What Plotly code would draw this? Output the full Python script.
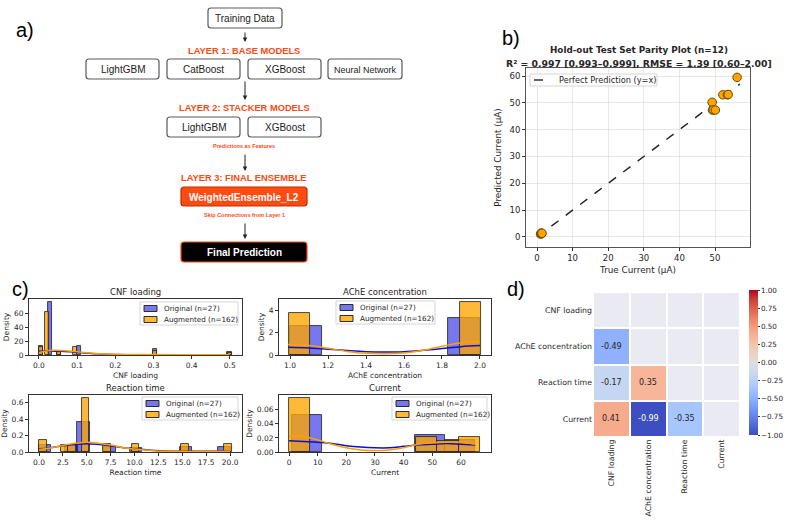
import plotly.graph_objects as go

W, H = 792, 525
MPL = "DejaVu Sans"
ARIAL = "Liberation Sans, Arial, sans-serif"
INK = "#262626"
RED = "#ff4a12"

# ── (a) stacking diagram ─────────────────────────────────────────
training_label = "Training Data"
layer_titles = ["LAYER 1: BASE MODELS", "LAYER 2: STACKER MODELS", "LAYER 3: FINAL ENSEMBLE"]
base_models = ["LightGBM", "CatBoost", "XGBoost", "Neural Network"]
stacker_models = ["LightGBM", "XGBoost"]
ensemble_label = "WeightedEnsemble_L2"
final_label = "Final Prediction"
flow_notes = ["Predictions as Features", "Skip Connections from Layer 1"]

# ── (b) parity plot ──────────────────────────────────────────────
true_current = [1.0, 1.2, 1.3, 1.4, 49.2, 49.3, 49.5, 50.1, 52.2, 53.5, 53.7, 56.2]
pred_current = [1.1, 1.5, 1.2, 1.4, 50.2, 47.3, 47.4, 47.3, 53.0, 53.0, 53.1, 59.5]
ideal_span = [0.0, 57.0]
parity_title = "Hold-out Test Set Parity Plot (n=12)"
parity_stats = "R² = 0.997 [0.993–0.999], RMSE = 1.39 [0.60–2.00]"
parity_legend = "Perfect Prediction (y=x)"

# ── (c) original vs augmented distributions ──────────────────────
dist_labels = ["Original (n=27)", "Augmented (n=162)"]

cnf_orig_left = [0.000, 0.024, 0.048, 0.100, 0.298, 0.494]
cnf_orig_h = [12.5, 76.0, 5.0, 13.0, 9.0, 4.5]
cnf_aug_left = [0.000, 0.017, 0.048, 0.090, 0.298, 0.496]
cnf_aug_h = [11.0, 61.0, 4.0, 11.0, 5.5, 3.5]
cnf_bin_w = [0.0105, 0.0105]
cnf_kde_x = [0.0, 0.03, 0.06, 0.1, 0.15, 0.2, 0.25, 0.3, 0.4, 0.5]
cnf_kde_orig = [5.5, 5.8, 5.2, 3.8, 1.8, 0.8, 0.5, 0.5, 0.3, 0.3]
cnf_kde_aug = [3.5, 6.5, 6.5, 4.5, 2.2, 1.0, 0.6, 0.6, 0.4, 0.4]

ache_orig_left = [1.0, 1.833]
ache_orig_h = [2.65, 3.3]
ache_aug_left = [0.995, 1.895]
ache_aug_h = [3.8, 4.75]
ache_bin_w = [0.1667, 0.11]
ache_kde_x = [0.99, 1.1, 1.2, 1.3, 1.4, 1.5, 1.6, 1.7, 1.8, 1.9, 2.0]
ache_kde_orig = [0.7, 0.64, 0.52, 0.4, 0.3, 0.27, 0.3, 0.42, 0.58, 0.75, 0.85]
ache_kde_aug = [0.95, 0.85, 0.6, 0.32, 0.15, 0.12, 0.18, 0.42, 0.78, 1.1, 1.22]

rt_orig_left = [0.0, 2.75, 4.0, 6.75, 9.5, 14.75, 18.75]
rt_orig_h = [0.09, 0.075, 0.37, 0.055, 0.05, 0.06, 0.06]
rt_aug_left = [0.0, 2.27, 3.07, 4.47, 6.73, 9.7, 14.9, 19.4]
rt_aug_h = [0.15, 0.08, 0.08, 0.66, 0.1, 0.1, 0.1, 0.1]
rt_bin_w = [1.3, 0.8]
rt_kde_x = [0, 1, 2.5, 4, 5, 6, 7.5, 9, 10, 12.5, 15, 17.5, 20]
rt_kde_orig = [0.04, 0.05, 0.075, 0.095, 0.1, 0.095, 0.075, 0.05, 0.04, 0.015, 0.01, 0.008, 0.01]
rt_kde_aug = [0.03, 0.045, 0.08, 0.11, 0.12, 0.11, 0.085, 0.05, 0.035, 0.01, 0.008, 0.005, 0.008]

cur_orig_left = [1.0, 44.0, 54.4]
cur_orig_h = [0.052, 0.024, 0.017]
cur_aug_left = [0.0, 44.4, 51.8, 59.2]
cur_aug_h = [0.077, 0.021, 0.016, 0.021]
cur_bin_w = [10.4, 7.4]
cur_kde_x = [0, 5, 10, 15, 20, 25, 30, 35, 40, 45, 50, 55, 60, 65]
cur_kde_orig = [0.016, 0.015, 0.014, 0.012, 0.009, 0.007, 0.006, 0.006, 0.008, 0.01, 0.011, 0.012, 0.011, 0.01]
cur_kde_aug = [0.022, 0.022, 0.017, 0.011, 0.006, 0.003, 0.002, 0.003, 0.006, 0.011, 0.013, 0.014, 0.014, 0.011]

# ── (d) correlation matrix (lower triangle) ──────────────────────
features = ["CNF loading", "AChE concentration", "Reaction time", "Current"]
corr_lower = [[], [-0.49], [-0.17, 0.35], [0.41, -0.99, -0.35]]

COOLWARM = [
    [0.0, "rgb(59,76,192)"], [0.0625, "rgb(77,104,215)"], [0.125, "rgb(98,130,234)"],
    [0.1875, "rgb(119,154,247)"], [0.25, "rgb(141,176,254)"], [0.3125, "rgb(163,194,255)"],
    [0.375, "rgb(184,208,249)"], [0.4375, "rgb(204,217,238)"], [0.5, "rgb(221,221,221)"],
    [0.5625, "rgb(236,211,197)"], [0.625, "rgb(245,196,173)"], [0.6875, "rgb(247,177,148)"],
    [0.75, "rgb(244,154,123)"], [0.8125, "rgb(236,127,99)"], [0.875, "rgb(222,96,77)"],
    [0.9375, "rgb(203,62,56)"], [1.0, "rgb(180,4,38)"],
]

BLUE_FILL = "rgba(20,20,225,0.58)"
ORANGE_FILL = "rgba(255,165,0,0.78)"
EDGE = "rgba(25,25,25,0.85)"


def xd(a, b):
    return [a / W, b / W]


def yd(top, bottom):
    return [1 - bottom / H, 1 - top / H]


def note(text, x, y, size, color=INK, family=MPL, angle=0, xanchor="center"):
    fig.add_annotation(
        x=x / W, y=1 - y / H, xref="paper", yref="paper", text=text, showarrow=False,
        font=dict(family=family, size=size, color=color), textangle=angle,
        xanchor=xanchor, yanchor="middle",
    )


def paper_rect(x0, y0, x1, y1, fill, line, width=1):
    fig.add_shape(type="rect", xref="paper", yref="paper",
                  x0=x0 / W, x1=x1 / W, y0=1 - y1 / H, y1=1 - y0 / H,
                  fillcolor=fill, line=dict(color=line, width=width), layer="above")


def hist_legend(x0, y0, x1, y1):
    paper_rect(x0, y0, x1, y1, "rgba(255,255,255,0.85)", "#d5d5d5")
    for k, (label, fill) in enumerate(zip(dist_labels, [BLUE_FILL, ORANGE_FILL])):
        yc = y0 + 6.5 + k * 11
        paper_rect(x0 + 4, yc - 3, x0 + 17, yc + 3, fill, "#1a1a1a", 0.9)
        note(label, x0 + 22, yc, 7.2, xanchor="left")


def mpl_axis(**kw):
    base = dict(
        showgrid=False, zeroline=False, showline=True, mirror=True, automargin=False,
        linecolor="#333", linewidth=0.9, ticks="outside", ticklen=3,
        tickwidth=0.8, tickcolor="#333", fixedrange=True,
        tickfont=dict(family=MPL, size=7.5, color=INK),
    )
    base.update(kw)
    return base


def axis_title(text, standoff=3, size=7.5):
    return dict(text=text, standoff=standoff, font=dict(family=MPL, size=size, color=INK))


def rrect(x0, y0, x1, y1, r=3):
    return (f"M{x0 + r},{y0} L{x1 - r},{y0} Q{x1},{y0} {x1},{y0 + r} "
            f"L{x1},{y1 - r} Q{x1},{y1} {x1 - r},{y1} L{x0 + r},{y1} "
            f"Q{x0},{y1} {x0},{y1 - r} L{x0},{y0 + r} Q{x0},{y0} {x0 + r},{y0} Z")


fig = go.Figure()

# ── (a) diagram, drawn on a pixel-scaled helper axis ─────────────
fig.add_trace(go.Scatter(x=[0], y=[0], xaxis="x7", yaxis="y7", mode="markers",
                         marker=dict(opacity=0), hoverinfo="skip", showlegend=False))


def box(x0, x1, y0, y1, text, fill="white", line="#5a5a5a", tcolor="#222", size=10, bold=False):
    fig.add_shape(type="path", path=rrect(x0, y0, x1, y1), xref="x7", yref="y7",
                  fillcolor=fill, line=dict(color=line, width=1.2), layer="above")
    fig.add_annotation(x=(x0 + x1) / 2, y=(y0 + y1) / 2 + 0.5, xref="x7", yref="y7",
                       text=f"<b>{text}</b>" if bold else text, showarrow=False,
                       font=dict(family=ARIAL, size=size, color=tcolor))


def arrow(y0, y1, cx=245):
    fig.add_annotation(x=cx, y=y1, ax=cx, ay=y0, xref="x7", yref="y7", axref="x7", ayref="y7",
                       text="", showarrow=True, arrowhead=2, arrowsize=0.9,
                       arrowwidth=1, arrowcolor="#222")


def red_label(text, y, size):
    fig.add_annotation(x=244, y=y, xref="x7", yref="y7", text=f"<b>{text}</b>", showarrow=False,
                       font=dict(family=ARIAL, size=size, color=RED))


box(208, 282, 8, 28, training_label, size=10)
arrow(31, 42)
red_label(layer_titles[0], 51, 9.3)
for name, (a, b) in zip(base_models, [(86, 159), (167, 240), (248, 321), (328, 402)]):
    box(a, b, 59, 79, name, size=10 if name != "Neural Network" else 9)
arrow(80, 100)
red_label(layer_titles[1], 108, 9.3)
for name, (a, b) in zip(stacker_models, [(167, 240), (248, 321)]):
    box(a, b, 117, 137, name, size=10)
red_label(flow_notes[0], 146, 5.5)
arrow(153, 171)
red_label(layer_titles[2], 178, 9.3)
box(181, 307, 187, 206, ensemble_label, fill=RED, line="#b83000", tcolor="white", size=10, bold=True)
red_label(flow_notes[1], 215, 5.5)
arrow(222, 239)
box(181, 307, 242, 262, final_label, fill="black", line=RED, tcolor="white", size=10, bold=True)

# ── (b) parity plot ──────────────────────────────────────────────
fig.add_trace(go.Scatter(
    x=ideal_span, y=ideal_span, mode="lines", showlegend=False,
    line=dict(color="#222", width=1.4, dash="dash"),
))
fig.add_trace(go.Scatter(
    x=true_current, y=pred_current, mode="markers", showlegend=False,
    marker=dict(size=8.5, color="#ffa500", line=dict(color="#6b4a00", width=1)),
))

# ── (c) histograms with kde ──────────────────────────────────────
hist_specs = [
    ("x2", "y2", cnf_orig_left, cnf_orig_h, cnf_aug_left, cnf_aug_h, cnf_bin_w,
     cnf_kde_x, cnf_kde_orig, cnf_kde_aug),
    ("x3", "y3", ache_orig_left, ache_orig_h, ache_aug_left, ache_aug_h, ache_bin_w,
     ache_kde_x, ache_kde_orig, ache_kde_aug),
    ("x4", "y4", rt_orig_left, rt_orig_h, rt_aug_left, rt_aug_h, rt_bin_w,
     rt_kde_x, rt_kde_orig, rt_kde_aug),
    ("x5", "y5", cur_orig_left, cur_orig_h, cur_aug_left, cur_aug_h, cur_bin_w,
     cur_kde_x, cur_kde_orig, cur_kde_aug),
]
for xa, ya, o_left, o_h, a_left, a_h, bw, kx, ko, ka in hist_specs:
    fig.add_trace(go.Bar(
        x=[l + bw[0] / 2 for l in o_left], y=o_h, width=bw[0], xaxis=xa, yaxis=ya,
        showlegend=False, marker=dict(color=BLUE_FILL, line=dict(color=EDGE, width=0.9)),
    ))
    fig.add_trace(go.Scatter(
        x=kx, y=ko, mode="lines", line=dict(color="#1010c8", width=1.5, shape="spline"),
        xaxis=xa, yaxis=ya, showlegend=False,
    ))
    fig.add_trace(go.Bar(
        x=[l + bw[1] / 2 for l in a_left], y=a_h, width=bw[1], xaxis=xa, yaxis=ya,
        showlegend=False, marker=dict(color=ORANGE_FILL, line=dict(color=EDGE, width=0.9)),
    ))
    fig.add_trace(go.Scatter(
        x=kx, y=ka, mode="lines", line=dict(color="#ffa000", width=1.5, shape="spline"),
        xaxis=xa, yaxis=ya, showlegend=False,
    ))

# ── (d) correlation heatmap ──────────────────────────────────────
z = [[None] * len(features) for _ in features]
mask = [[1] * len(features) for _ in features]
for i, row in enumerate(corr_lower):
    for j, v in enumerate(row):
        z[i][j] = v
        mask[i][j] = None
fig.add_trace(go.Heatmap(
    z=mask, x=features, y=features, xaxis="x6", yaxis="y6", xgap=2, ygap=2,
    colorscale=[[0, "#eaeaf2"], [1, "#eaeaf2"]], showscale=False, hoverinfo="skip",
))
fig.add_trace(go.Heatmap(
    z=z, x=features, y=features, xaxis="x6", yaxis="y6", xgap=2, ygap=2,
    colorscale=COOLWARM, zmin=-1, zmax=1,
    colorbar=dict(
        x=749 / W, xanchor="left", y=1 - 362.5 / H, yanchor="middle",
        len=145 / H, thickness=9, outlinewidth=0, xpad=0, ypad=0,
        tickvals=[-1, -0.75, -0.5, -0.25, 0, 0.25, 0.5, 0.75, 1], tickformat=".2f",
        ticks="outside", ticklen=2, tickcolor="#333",
        tickfont=dict(family=MPL, size=7.2, color=INK),
    ),
))
for i, row in enumerate(corr_lower):
    for j, v in enumerate(row):
        fig.add_annotation(
            x=features[j], y=features[i], xref="x6", yref="y6", text=f"{v:.2f}",
            showarrow=False, font=dict(family=MPL, size=8, color="white" if abs(v) > 0.8 else INK),
        )

# ── layout ───────────────────────────────────────────────────────
fig.update_layout(
    width=W, height=H, margin=dict(l=0, r=0, t=0, b=0),
    paper_bgcolor="white", plot_bgcolor="white", barmode="overlay", bargap=0,
    template="none", showlegend=False,
    xaxis=mpl_axis(domain=xd(526, 750), range=[-3.09, 59.83], dtick=10, anchor="y",
                   showgrid=True, gridcolor="rgba(0,0,0,0.09)", gridwidth=1, linecolor="#555",
                   tickfont=dict(family=MPL, size=8.5, color=INK),
                   title=axis_title("True Current (μA)", 4, 8.8)),
    yaxis=mpl_axis(domain=yd(68, 247), range=[-3.73, 62.99], dtick=10, anchor="x",
                   showgrid=True, gridcolor="rgba(0,0,0,0.09)", gridwidth=1, linecolor="#555",
                   tickfont=dict(family=MPL, size=8.5, color=INK),
                   title=axis_title("Predicted Current (μA)", 6, 8.8)),
    xaxis2=mpl_axis(domain=xd(29, 242), range=[-0.026, 0.532], tickvals=[0, 0.1, 0.2, 0.3, 0.4, 0.5],
                    tickformat=".1f", anchor="y2", title=axis_title(features[0])),
    yaxis2=mpl_axis(domain=yd(299, 355), range=[0, 80], tickvals=[0, 20, 40, 60], anchor="x2",
                    title=axis_title("Density")),
    xaxis3=mpl_axis(domain=xd(279, 491), range=[0.942, 2.058], tickvals=[1.0, 1.2, 1.4, 1.6, 1.8, 2.0],
                    tickformat=".1f", anchor="y3", title=axis_title(features[1])),
    yaxis3=mpl_axis(domain=yd(299, 355), range=[0, 5.04], tickvals=[0, 2, 4], anchor="x3",
                    title=axis_title("Density")),
    xaxis4=mpl_axis(domain=xd(29, 242), range=[-1.05, 21.25], tickvals=[0, 2.5, 5, 7.5, 10, 12.5, 15, 17.5, 20],
                    tickformat=".1f", anchor="y4", title=axis_title(features[2])),
    yaxis4=mpl_axis(domain=yd(395, 452), range=[0, 0.693], tickvals=[0, 0.2, 0.4, 0.6], tickformat=".1f",
                    anchor="x4", title=axis_title("Density")),
    xaxis5=mpl_axis(domain=xd(279, 491), range=[-3.5, 70.5], tickvals=[0, 10, 20, 30, 40, 50, 60],
                    anchor="y5", title=axis_title(features[3])),
    yaxis5=mpl_axis(domain=yd(395, 452), range=[0, 0.081], tickvals=[0, 0.02, 0.04, 0.06], tickformat=".2f",
                    anchor="x5", title=axis_title("Density")),
    xaxis6=dict(domain=xd(593, 740), anchor="y6", showgrid=False, zeroline=False, showline=False,
                automargin=False, ticks="", tickangle=-90,
                tickfont=dict(family=MPL, size=7.8, color=INK), fixedrange=True),
    yaxis6=dict(domain=yd(292, 437), anchor="x6", showgrid=False, zeroline=False, showline=False,
                automargin=False, ticks="", autorange="reversed",
                tickfont=dict(family=MPL, size=7.8, color=INK), fixedrange=True),
    xaxis7=dict(domain=xd(0, 420), range=[0, 420], anchor="y7", visible=False, fixedrange=True),
    yaxis7=dict(domain=yd(0, 270), range=[270, 0], anchor="x7", visible=False, fixedrange=True),
)

# (b) legend, drawn by hand to keep matplotlib's compact box
paper_rect(530, 74, 657, 86, "rgba(255,255,255,0.85)", "#d5d5d5")
fig.add_shape(type="line", xref="paper", yref="paper", x0=534 / W, x1=552 / W,
              y0=1 - 80 / H, y1=1 - 80 / H, line=dict(color="#222", width=1.4, dash="dash"),
              layer="above")
note(parity_legend, 557, 80, 8.2, xanchor="left")

# (c) legends
hist_legend(140, 302, 238, 325)
hist_legend(336, 301, 435, 324)
hist_legend(142, 397, 238, 420)
hist_legend(392, 397, 487, 420)

# panel letters and titles
note("a)", 25, 30, 20, color="black", family=ARIAL)
note("b)", 511, 38, 20, color="black", family=ARIAL)
note("c)", 20, 289, 20, color="black", family=ARIAL)
note("d)", 516, 289, 20, color="black", family=ARIAL)
note(f"<b>{parity_title}</b>", 639, 50, 8.8)
note(f"<b>{parity_stats}</b>", 639, 63, 9.3)
note(features[0], 135, 292, 8.5)
note(features[1], 385, 292, 8.5)
note(features[2], 135, 388, 8.5)
note(features[3], 385, 388, 8.5)

# the page's default 8px body margin would push the 792x525 figure off the window
fig.write_html("out.html", config={"displayModeBar": False},
               post_script="document.body.style.margin = '0';")
